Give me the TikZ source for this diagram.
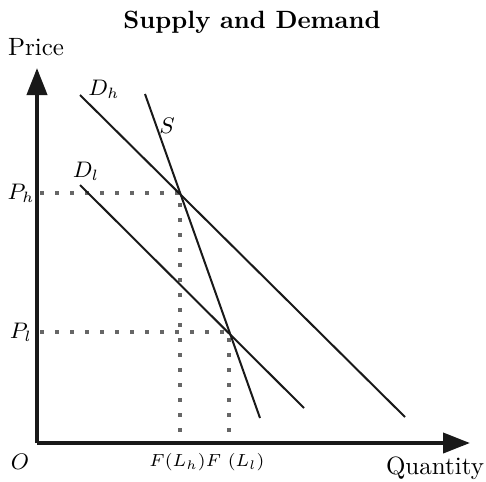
\documentclass[tikz,border=0pt]{standalone}
\usepackage{amsmath}
\usepackage{tikz}
\usetikzlibrary{arrows.meta,calc,positioning}
\definecolor{guide}{HTML}{666666}
\definecolor{faint}{HTML}{CCCCCC}

\begin{document}
\begin{tikzpicture}[x=0.4pt,y=0.4pt,
          axis/.style={-{Triangle[length=10.8pt,width=8pt]}, line width=1.6pt, color=black!90},
          curve/.style={line width=0.8pt, color=black!90},
          guideline/.style={line width=1.6pt, color=guide, dash pattern=on 1.6pt off 4.4pt},
          label/.style={inner sep=1pt, font=\small}
        ]
          \useasboundingbox (0,0) rectangle (486,481);
          % axes
          \coordinate (orig) at (37,38);
          \coordinate (ytip) at (37,413);
          \coordinate (xtip) at (470,38);
          \coordinate (lfoot) at (229,39.5);
          \draw[faint, line width=0.5pt, dashed] (37,39.5) -- (lfoot);
          \draw[axis] (orig) -- (ytip);
          \draw[axis] (orig) -- (xtip);
          % demand and supply lines
          \coordinate (dh1) at (80,386);
          \coordinate (dh2) at (405,64);
          \coordinate (s1) at (145,387);
          \coordinate (s2) at (260,63);
          \coordinate (dl1) at (80,296);
          \coordinate (dl2) at (304,73);
          \coordinate (eqh) at (180,288);
          \coordinate (eql) at (229,149);
          \coordinate (ph) at (40,288);
          \coordinate (pl) at (40,149);
          \coordinate (fh) at (180,40);
          \coordinate (fl) at (229,40);
          \draw[guideline] (ph) -- (eqh) -- (fh);
          \draw[guideline] (pl) -- (eql) -- (fl);
          \draw[curve] (dh1) -- (dh2);
          \draw[curve] (s1) -- (s2);
          \draw[curve] (dl1) -- (dl2);
          % labels
          \node[inner sep=1pt] (title) at (252,459) {\bfseries Supply and Demand};
          \node[inner sep=1pt] (price) at (36,434) {Price};
          \node[inner sep=1pt] (qty) at (435,13) {Quantity};
          \node[label] (o) at (20,19) {$O$};
          \node[label] (phl) at (21,288) {$P_h$};
          \node[label] (pll) at (21,149) {$P_l$};
          \node[label] (dhl) at (104,392) {$D_h$};
          \node[label] (sl) at (167,355) {$S$};
          \node[label] (dll) at (86,310) {$D_l$};
          \node[label, font=\scriptsize] (fll) at (207,19) {$F(L_h)F\ (L_l)$};
        \end{tikzpicture}
\end{document}
